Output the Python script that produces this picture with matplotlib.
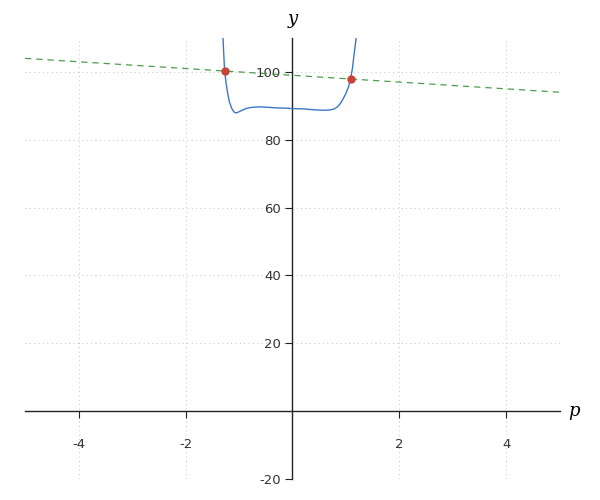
import numpy as np
import matplotlib.pyplot as plt

plt.rcParams['axes.unicode_minus'] = False

# curve values
p_curve = [-1.36, -1.30, -1.27, -1.24, -1.21, -1.18, -1.14, -1.10, -1.065, -1.02,
           -0.97, -0.93, -0.85, -0.74, -0.60, -0.49, -0.30, -0.10, 0.0, 0.20,
           0.44, 0.60, 0.70, 0.78, 0.84, 0.89, 0.94, 1.00, 1.05, 1.085, 1.12,
           1.146, 1.17, 1.19, 1.23]
y_curve = [118.0, 110.0, 100.5, 96.5, 93.5, 91.2, 89.4, 88.3, 87.9, 88.1,
           88.5, 88.8, 89.3, 89.6, 89.7, 89.6, 89.4, 89.3, 89.2, 89.1,
           88.8, 88.7, 88.8, 89.1, 89.7, 90.6, 91.9, 93.7, 95.8, 98.0, 101.0,
           104.5, 107.5, 110.0, 117.0]

# dashed line end points
p_line = [-5, 5]
y_line = [104, 94]

# intersection points
p_pts = [-1.27, 1.085]
y_pts = [100.4, 97.9]

fig = plt.figure(figsize=(6, 5), dpi=100)
ax = fig.add_axes([0.0417, 0.042, 0.8916, 0.882])

ax.plot(p_curve, y_curve, color='#3b78c4', lw=1.0, zorder=3)
ax.plot(p_line, y_line, color='#4a9e4a', lw=0.9, ls=(0, (5, 4)), zorder=2)
ax.plot(p_pts, y_pts, 'o', color='#c8433a', ms=5, zorder=4)

ax.set_xlim(-5, 5)
ax.set_ylim(-20, 110)

ax.spines['left'].set_position(('data', 0))
ax.spines['bottom'].set_position(('data', 0))
ax.spines['right'].set_visible(False)
ax.spines['top'].set_visible(False)
for s in ('left', 'bottom'):
    ax.spines[s].set_linewidth(1.0)
    ax.spines[s].set_color('#222222')

ax.set_xticks([-4, -2, 2, 4])
ax.set_yticks([-20, 20, 40, 60, 80, 100])
ax.tick_params(axis='both', labelsize=9.5, colors='#222222', labelcolor='#333333',
               direction='out', length=5)
ax.tick_params(axis='x', pad=14)

ax.grid(True, color='#c4c4c4', ls=(0, (1, 3.5)), lw=0.7)
ax.set_axisbelow(True)

ax.text(0, 113, 'y', fontsize=13, family='serif', style='italic',
        ha='center', va='bottom')
ax.text(5.15, 0, 'p', fontsize=13, family='serif', style='italic',
        ha='left', va='center')

plt.savefig('out.png')
